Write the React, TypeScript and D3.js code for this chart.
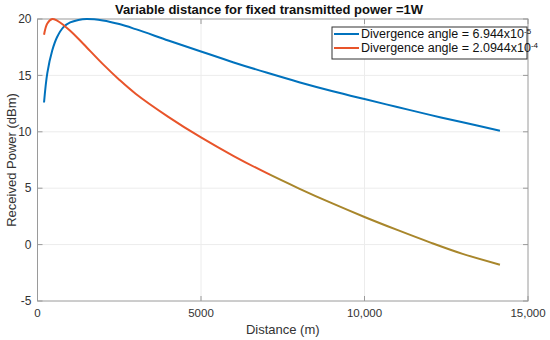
import React from "react";
import * as d3 from "d3";

// distance samples (m)
const distances = [200, 300, 450, 600, 800, 1000, 1250, 1500, 2000, 2500, 3000, 4000, 5000, 6000, 7000, 8000, 9000, 10000, 11000, 12000, 13000, 14142];
// received power (dBm), divergence 6.944e-5
const powerNarrow = [12.6, 15.2, 17.2, 18.4, 19.3, 19.7, 19.92, 20.0, 19.87, 19.55, 19.1, 18.1, 17.12, 16.15, 15.25, 14.4, 13.62, 12.9, 12.2, 11.5, 10.84, 10.1];
// received power (dBm), divergence 2.0944e-4
const powerWide = [18.6, 19.6, 20.0, 19.85, 19.45, 18.95, 18.25, 17.5, 16.0, 14.62, 13.38, 11.33, 9.5, 7.85, 6.35, 4.97, 3.67, 2.45, 1.3, 0.2, -0.82, -1.78];

const xTicks = [0, 5000, 10000, 15000];
const xTickLabels = ["0", "5000", "10,000", "15,000"];
const yTicks = [-5, 0, 5, 10, 15, 20];

const W = 550;
const H = 340;
const m = { left: 37.5, right: 22, top: 19, bottom: 39 };

const font = "'Liberation Sans', Arial, Helvetica, sans-serif";
const blue = "#0072BD";
const red = "#E8542A";
const olive = "#A8862B";

export default function App() {
  const x = d3.scaleLinear().domain([0, 15000]).range([m.left, W - m.right]);
  const y = d3.scaleLinear().domain([-5, 20]).range([H - m.bottom, m.top]);

  const line = d3
    .line<number>()
    .x((_, i) => x(distances[i]))
    .y((d) => y(d))
    .curve(d3.curveCatmullRom.alpha(0.5));

  const x0 = x.range()[0];
  const x1 = x.range()[1];
  const y0 = y.range()[0];
  const y1 = y.range()[1];
  const tk = 5;
  const axisCol = "#9a9a9a";
  const textCol = "#333";
  const split = (x(7100) - x0) / (x1 - x0);

  return (
    <svg width={W} height={H} style={{ position: "absolute", left: 0, top: 0 }} fontFamily={font}>
      <defs>
        <linearGradient id="wideGrad" gradientUnits="userSpaceOnUse" x1={x0} x2={x1} y1={0} y2={0}>
          <stop offset={split} stopColor={red} />
          <stop offset={split} stopColor={olive} />
        </linearGradient>
      </defs>
      <rect x={0} y={0} width={W} height={H} fill="#fff" />
      {/* grid */}
      {yTicks.slice(1, -1).map((t) => (
        <line key={"gy" + t} x1={x0} x2={x1} y1={y(t)} y2={y(t)} stroke="#ececec" strokeWidth={1} />
      ))}
      {xTicks.slice(1, -1).map((t) => (
        <line key={"gx" + t} x1={x(t)} x2={x(t)} y1={y0} y2={y1} stroke="#ececec" strokeWidth={1} />
      ))}
      {/* box */}
      <rect x={x0} y={y1} width={x1 - x0} height={y0 - y1} fill="none" stroke={axisCol} strokeWidth={1} />
      {yTicks.map((t) => (
        <g key={"ty" + t}>
          <line x1={x0} x2={x0 + tk} y1={y(t)} y2={y(t)} stroke={axisCol} />
          <line x1={x1} x2={x1 - tk} y1={y(t)} y2={y(t)} stroke={axisCol} />
          <text x={x0 - 6} y={y(t)} dy="0.35em" textAnchor="end" fontSize={12} fill={textCol}>
            {t}
          </text>
        </g>
      ))}
      {xTicks.map((t, i) => (
        <g key={"tx" + t}>
          <line x1={x(t)} x2={x(t)} y1={y0} y2={y0 - tk} stroke={axisCol} />
          <line x1={x(t)} x2={x(t)} y1={y1} y2={y1 + tk} stroke={axisCol} />
          <text x={x(t)} y={y0 + 16} textAnchor="middle" fontSize={11.5} fill={textCol}>
            {xTickLabels[i]}
          </text>
        </g>
      ))}
      {/* lines */}
      <path d={line(powerNarrow) || ""} fill="none" stroke={blue} strokeWidth={2} />
      <path d={line(powerWide) || ""} fill="none" stroke="url(#wideGrad)" strokeWidth={2} />
      {/* labels */}
      <text x={269} y={14} textAnchor="middle" fontSize={13} fontWeight="bold" fill="#111">
        Variable distance for fixed transmitted power =1W
      </text>
      <text x={(x0 + x1) / 2} y={334} textAnchor="middle" fontSize={13} fill={textCol}>
        Distance (m)
      </text>
      <text transform={`translate(16,${(y0 + y1) / 2}) rotate(-90)`} textAnchor="middle" fontSize={13} fill={textCol}>
        Received Power (dBm)
      </text>
      {/* legend */}
      <g>
        <rect x={332} y={27} width={195} height={32} fill="#fff" stroke="#333" strokeWidth={1} />
        {[
          { c: blue, base: "Divergence angle = 6.944x10", exp: "-5" },
          { c: red, base: "Divergence angle = 2.0944x10", exp: "-4" },
        ].map((e, i) => (
          <g key={i} transform={`translate(0,${34 + i * 14})`}>
            <line x1={334} x2={359} y1={0} y2={0} stroke={e.c} strokeWidth={2} />
            <text x={361} y={0} dy="0.35em" fontSize={12.5} fill="#111">
              {e.base}
              <tspan fontSize={8} dy="-0.6em">{e.exp}</tspan>
            </text>
          </g>
        ))}
      </g>
    </svg>
  );
}
